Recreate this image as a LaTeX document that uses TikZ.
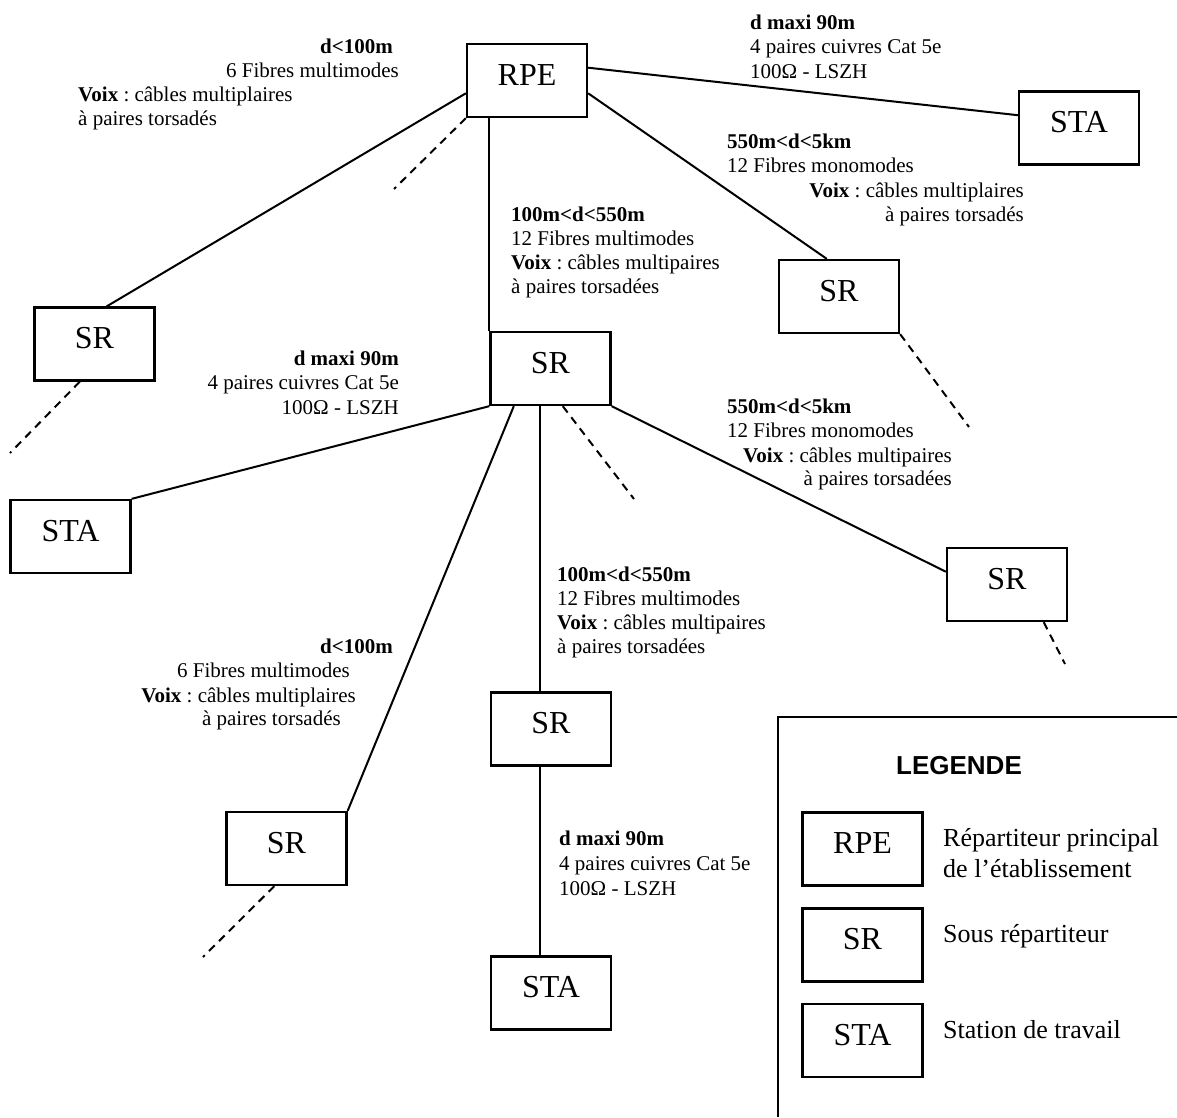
\documentclass[tikz,border=0pt]{standalone}
\usepackage{fontspec}
\setmainfont{Liberation Serif}
\newfontfamily\legfont{Liberation Sans}
\usetikzlibrary{calc}
\frenchspacing
\begin{document}
\begin{tikzpicture}[x=1pt,y=-1pt,
  box/.style={draw,line width=2.3pt,minimum width=120pt,minimum height=73pt,inner sep=0pt,
    text height=21.5pt,text depth=12pt,font=\fontsize{32}{36}\selectfont},
  conn/.style={line width=2pt},
  dsh/.style={line width=2pt,dash pattern=on 8pt off 6pt},
  lbl/.style={inner sep=0pt,font=\fontsize{21}{24}\selectfont},
  leg/.style={inner sep=0pt,font=\fontsize{26}{30}\selectfont}]
\useasboundingbox (0,0) rectangle (1177,1117);

% boxes
\node[box] (rpe)   at (527,80.5)  {RPE};
\node[box] (staTR) at (1079,128)  {STA};
\node[box] (srR)   at (839,296.5) {SR};
\node[box] (srL)   at (94.5,344)  {SR};
\node[box] (srC)   at (550.5,368.5) {SR};
\node[box] (staL)  at (70.5,536.5) {STA};
\node[box] (srMR)  at (1007,584.5) {SR};
\node[box] (srLL)  at (286.5,848.5) {SR};
\node[box] (srM)   at (551,729)   {SR};
\node[box] (staB)  at (551,993)   {STA};

% free ends of dashed lines
\coordinate (e1) at (394,189);
\coordinate (e2) at (969,427);
\coordinate (e3) at (10,453);
\coordinate (e4) at (634,499);
\coordinate (e5) at (1065,664);
\coordinate (e6) at (203,957);

% connectors
\draw[conn] ($(rpe.north west)!0.67!(rpe.south west)$) -- ($(srL.north west)!0.6!(srL.north east)$);
\draw[dsh] (rpe.south west) -- (e1);
\draw[conn] (srC.north west) -- (srC.north west |- rpe.south);
\draw[conn] ($(rpe.north east)!0.33!(rpe.south east)$) -- ($(staTR.north west)!0.33!(staTR.south west)$);
\draw[conn] ($(rpe.north east)!0.67!(rpe.south east)$) -- ($(srR.north west)!0.4!(srR.north east)$);
\draw[dsh] (srR.south east) -- (e2);
\draw[dsh] ($(srL.south west)!0.38!(srL.south east)$) -- (e3);
\draw[conn] (srC.south west) -- (staL.north east);
\draw[conn] ($(srC.south west)!0.2!(srC.south east)$) -- (srLL.north east);
\path ($(srC.south west)!0.41!(srC.south east)$) coordinate (v1);
\draw[conn] (v1) -- (v1 |- srM.north);
\draw[dsh] ($(srC.south west)!0.6!(srC.south east)$) -- (e4);
\draw[conn] (srC.south east) -- ($(srMR.north west)!0.33!(srMR.south west)$);
\draw[dsh] ($(srMR.south west)!0.8!(srMR.south east)$) -- (e5);
\draw[dsh] ($(srLL.south west)!0.4!(srLL.south east)$) -- (e6);
\draw[conn] (v1 |- srM.south) -- (v1 |- staB.north);

% label block A
\node[lbl,anchor=base east] (a1) at (393,53) {\textbf{d<100m}};
\node[lbl,anchor=base east] (a2) at (399,77) {6 Fibres multimodes};
\node[lbl,anchor=base west] (a3) at (78,101) {\textbf{Voix} : câbles multiplaires};
\node[lbl,anchor=base west] (a4) at (78,125) {à paires torsadés};
% block B
\node[lbl,anchor=base west] (b1) at (750,29) {\textbf{d maxi 90m}};
\node[lbl,anchor=base west] (b2) at (750,53) {4 paires cuivres Cat 5e};
\node[lbl,anchor=base west] (b3) at (750,78) {100Ω - LSZH};
% block C
\node[lbl,anchor=base west] (c1) at (727,148) {\textbf{550m<d<5km}};
\node[lbl,anchor=base west] (c2) at (727,172) {12 Fibres monomodes};
\node[lbl,anchor=base east] (c3) at (1024,197) {\textbf{Voix} : câbles multiplaires};
\node[lbl,anchor=base east] (c4) at (1024,221) {à paires torsadés};
% block D
\node[lbl,anchor=base west] (d1) at (511,221) {\textbf{100m<d<550m}};
\node[lbl,anchor=base west] (d2) at (511,245) {12 Fibres multimodes};
\node[lbl,anchor=base west] (d3) at (511,269) {\textbf{Voix} : câbles multipaires};
\node[lbl,anchor=base west] (d4) at (511,293) {à paires torsadées};
% block E
\node[lbl,anchor=base east] (f1) at (399,365) {\textbf{d maxi 90m}};
\node[lbl,anchor=base east] (f2) at (399,389) {4 paires cuivres Cat 5e};
\node[lbl,anchor=base east] (f3) at (399,414) {100Ω - LSZH};
% block F
\node[lbl,anchor=base west] (g1) at (727,413) {\textbf{550m<d<5km}};
\node[lbl,anchor=base west] (g2) at (727,437) {12 Fibres monomodes};
\node[lbl,anchor=base east] (g3) at (952,462) {\textbf{Voix} : câbles multipaires};
\node[lbl,anchor=base east] (g4) at (952,485) {à paires torsadées};
% block G
\node[lbl,anchor=base west] (h1) at (557,581) {\textbf{100m<d<550m}};
\node[lbl,anchor=base west] (h2) at (557,605) {12 Fibres multimodes};
\node[lbl,anchor=base west] (h3) at (557,629) {\textbf{Voix} : câbles multipaires};
\node[lbl,anchor=base west] (h4) at (557,653) {à paires torsadées};
% block H
\node[lbl,anchor=base east] (i1) at (393,653) {\textbf{d<100m}};
\node[lbl,anchor=base east] (i2) at (350,677) {6 Fibres multimodes};
\node[lbl,anchor=base east] (i3) at (356,702) {\textbf{Voix} : câbles multiplaires};
\node[lbl,anchor=base east] (i4) at (341,725) {à paires torsadés};
% block I
\node[lbl,anchor=base west] (j1) at (559,845) {\textbf{d maxi 90m}};
\node[lbl,anchor=base west] (j2) at (559,870) {4 paires cuivres Cat 5e};
\node[lbl,anchor=base west] (j3) at (559,895) {100Ω - LSZH};

% legend
\draw[line width=2.3pt] (1177,717) -- (778,717) -- (778,1117);
\node[inner sep=0pt,anchor=base,font=\legfont\bfseries\fontsize{26}{30}\selectfont] (lgT) at (959,774) {LEGENDE};
\node[box] (lgRPE) at (862.5,849)    {RPE};
\node[box] (lgSR)  at (862.5,945)    {SR};
\node[box] (lgSTA) at (862.5,1040.5) {STA};
\node[leg,anchor=base west] (l1) at (943,846) {Répartiteur principal};
\node[leg,anchor=base west] (l2) at (943,877) {de l’établissement};
\node[leg,anchor=base west] (l3) at (943,942) {Sous répartiteur};
\node[leg,anchor=base west] (l4) at (943,1038) {Station de travail};
\end{tikzpicture}
\end{document}
